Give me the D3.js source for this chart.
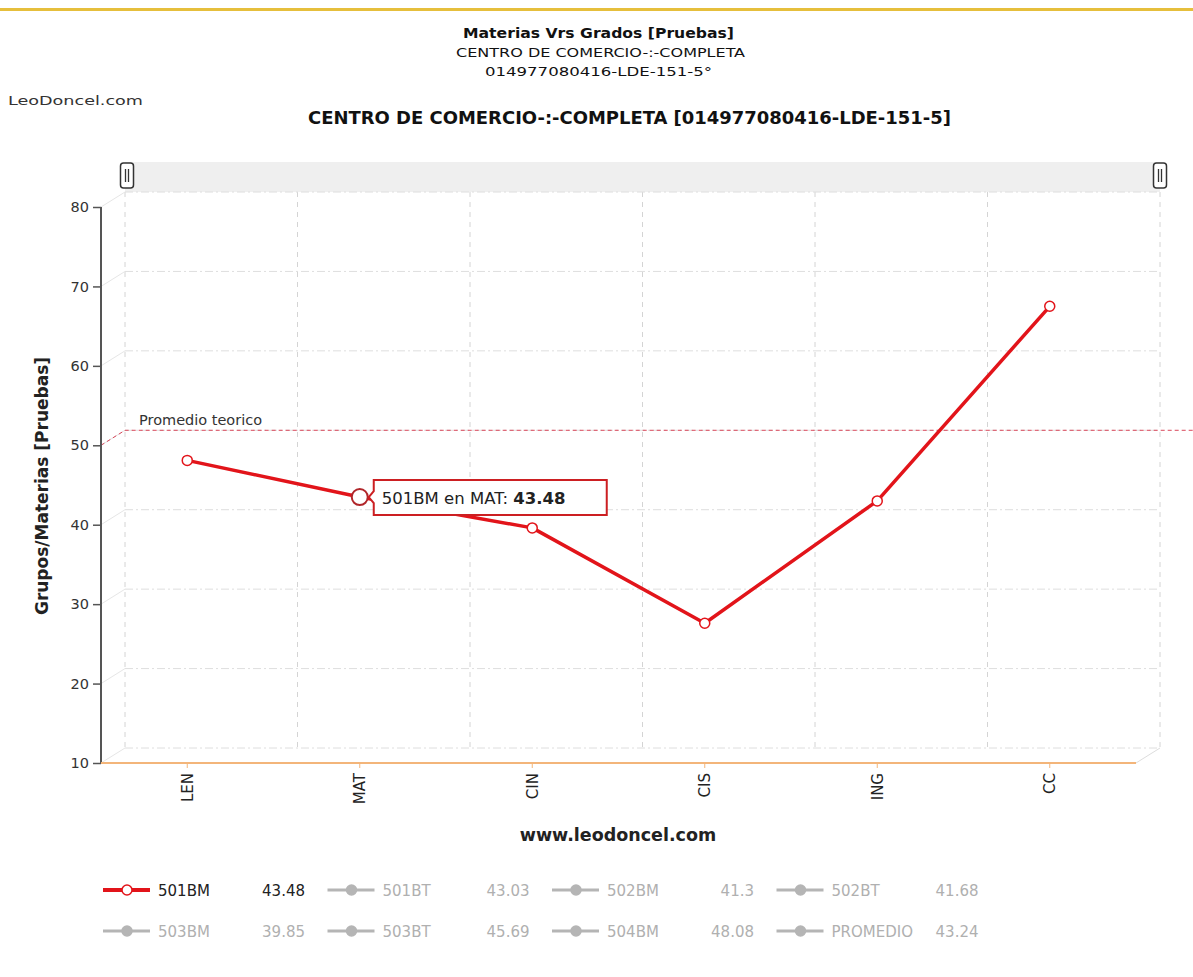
<!DOCTYPE html>
<html>
<head>
<meta charset="utf-8">
<script src="https://cdn.jsdelivr.net/npm/d3@7"></script>
<style>
  body { margin: 0; background: #fff; }
  svg { display: block; font-family: "DejaVu Sans", Verdana, sans-serif; }
</style>
</head>
<body>
<svg id="chart" width="1193" height="977"></svg>
<script>
// data
var materias = ["LEN", "MAT", "CIN", "CIS", "ING", "CC"];
var valores501BM = [48.1, 43.48, 39.6, 27.6, 43.0, 67.5];
var yTicks = [10, 20, 30, 40, 50, 60, 70, 80];
var promedioTeorico = 50;
var grupos = ["501BM", "501BT", "502BM", "502BT", "503BM", "503BT", "504BM", "PROMEDIO"];
var promedios = ["43.48", "43.03", "41.3", "41.68", "39.85", "45.69", "48.08", "43.24"];

var svg = d3.select("#chart");

var dims = { left: 101, right: 1136, top: 207, bottom: 763 };
var depth = { dx: 24, dy: -15 }; // offset of the back wall (fake 3d)
var red = "#e2141a";

var xScale = d3.scaleBand().domain(materias).range([dims.left, dims.right]);
var yScale = d3.scaleLinear().domain([10, 80]).range([dims.bottom, dims.top]);
var cx = (d) => xScale(d) + xScale.bandwidth() / 2;

// top gold rule
svg.append("rect").attr("x", 0).attr("y", 8).attr("width", 1193).attr("height", 3).attr("fill", "#e6bf3c");

// titles (condensed tahoma-like text, stretched to the widths in the picture)
var cond = "'DejaVu Sans Condensed', 'DejaVu Sans', sans-serif";
var head = svg.append("g").attr("font-family", cond).attr("fill", "#111");
head.append("text").attr("x", 463).attr("y", 38).attr("font-size", 14).attr("font-weight", "bold")
  .attr("textLength", 271).attr("lengthAdjust", "spacingAndGlyphs").text("Materias Vrs Grados [Pruebas]");
head.append("text").attr("x", 456).attr("y", 57).attr("font-size", 13)
  .attr("textLength", 289).attr("lengthAdjust", "spacingAndGlyphs").text("CENTRO DE COMERCIO-:-COMPLETA");
head.append("text").attr("x", 485).attr("y", 76).attr("font-size", 13)
  .attr("textLength", 227).attr("lengthAdjust", "spacingAndGlyphs").text("014977080416-LDE-151-5°");
svg.append("text").attr("x", 8).attr("y", 105).attr("font-size", 13).attr("fill", "#333")
  .attr("textLength", 135).attr("lengthAdjust", "spacingAndGlyphs").text("LeoDoncel.com");
svg.append("text").attr("x", 308).attr("y", 124).attr("font-family", cond)
  .attr("font-size", 17).attr("font-weight", "bold").attr("fill", "#111")
  .attr("textLength", 643).attr("lengthAdjust", "spacingAndGlyphs")
  .text("CENTRO DE COMERCIO-:-COMPLETA [014977080416-LDE-151-5]");

// range slider strip
svg.append("rect").attr("x", 125).attr("y", 162).attr("width", 1035).attr("height", 30).attr("fill", "#efefef");
[127, 1160].forEach(function (hx) {
  var h = svg.append("g").attr("transform", "translate(" + hx + ",175)");
  h.append("rect").attr("x", -6.5).attr("y", -12).attr("width", 13).attr("height", 25).attr("rx", 3)
    .attr("fill", "#fff").attr("stroke", "#333").attr("stroke-width", 1.5);
  h.append("line").attr("x1", -1.5).attr("x2", -1.5).attr("y1", -6).attr("y2", 7).attr("stroke", "#333").attr("stroke-width", 1.3);
  h.append("line").attr("x1", 1.5).attr("x2", 1.5).attr("y1", -6).attr("y2", 7).attr("stroke", "#333").attr("stroke-width", 1.3);
});

// back wall grid
var grid = svg.append("g");
d3.range(materias.length + 1).forEach(function (i) {
  var gx = dims.left + i * xScale.bandwidth() + depth.dx;
  grid.append("line").attr("x1", gx).attr("x2", gx)
    .attr("y1", dims.top + depth.dy).attr("y2", dims.bottom + depth.dy)
    .attr("stroke", "#d4d4d4").attr("stroke-dasharray", "5,5");
});
yTicks.forEach(function (v) {
  var gy = yScale(v) + depth.dy;
  grid.append("line").attr("x1", dims.left + depth.dx).attr("x2", dims.right + depth.dx)
    .attr("y1", gy).attr("y2", gy).attr("stroke", "#dedede").attr("stroke-dasharray", "8,3,2,3");
  grid.append("line").attr("x1", dims.left).attr("x2", dims.left + depth.dx)
    .attr("y1", yScale(v)).attr("y2", gy).attr("stroke", "#e6e6e6");
});
grid.append("line").attr("x1", dims.right).attr("x2", dims.right + depth.dx)
  .attr("y1", dims.bottom).attr("y2", dims.bottom + depth.dy).attr("stroke", "#ddd");

// promedio teorico
var py = yScale(promedioTeorico);
svg.append("path")
  .attr("d", "M" + dims.left + "," + py + "L" + (dims.left + depth.dx) + "," + (py + depth.dy) + "L1193," + (py + depth.dy))
  .attr("fill", "none").attr("stroke", "#d9475a").attr("stroke-width", 1).attr("stroke-dasharray", "4,3");
svg.append("text").attr("x", 139).attr("y", py + depth.dy - 5).attr("font-size", 14.5).attr("fill", "#333").text("Promedio teorico");

// y axis
var yAxis = d3.axisLeft(yScale).tickValues(yTicks).tickSize(8).tickPadding(4);
var yg = svg.append("g").attr("transform", "translate(" + dims.left + ",0)").call(yAxis);
yg.select(".domain").attr("stroke", "#555").attr("stroke-width", 2).attr("d", "M0," + dims.top + "V" + dims.bottom);
yg.selectAll(".tick line").attr("stroke", "#555").attr("stroke-width", 1.5);
yg.selectAll(".tick text").attr("font-size", 14.5).attr("fill", "#333").attr("font-family", "'DejaVu Sans', sans-serif");

svg.append("text").attr("transform", "translate(48,486) rotate(-90)").attr("text-anchor", "middle")
  .attr("font-size", 17).attr("font-weight", "bold").attr("fill", "#222").text("Grupos/Materias [Pruebas]");

// x axis
var xAxis = d3.axisBottom(xScale).tickSize(5).tickPadding(6);
var xg = svg.append("g").attr("transform", "translate(0," + dims.bottom + ")").call(xAxis);
xg.select(".domain").attr("stroke", "#f3b57a").attr("stroke-width", 2).attr("d", "M" + dims.left + ",0H" + dims.right);
xg.selectAll(".tick line").attr("stroke", "#f3b57a");
xg.selectAll(".tick text").attr("font-size", 15).attr("fill", "#222").attr("font-family", "'DejaVu Sans', sans-serif")
  .attr("transform", "rotate(-90)").attr("text-anchor", "end").attr("x", -10).attr("y", 0).attr("dy", "0.35em");

svg.append("text").attr("x", 618).attr("y", 841).attr("text-anchor", "middle")
  .attr("font-size", 17.5).attr("font-weight", "bold").attr("fill", "#222").text("www.leodoncel.com");

// series 501BM
var line = d3.line().x((d, i) => cx(materias[i])).y((d) => yScale(d));
svg.append("path").datum(valores501BM).attr("d", line)
  .attr("fill", "none").attr("stroke", red).attr("stroke-width", 3.5).attr("stroke-linejoin", "round");
svg.selectAll(".pt").data(valores501BM).enter().append("circle").attr("class", "pt")
  .attr("cx", (d, i) => cx(materias[i])).attr("cy", (d) => yScale(d))
  .attr("r", (d, i) => (i === 1 ? 8 : 5))
  .attr("fill", "#fff").attr("stroke", (d, i) => (i === 1 ? "#b0262a" : red)).attr("stroke-width", (d, i) => (i === 1 ? 2 : 1.5));

// tooltip on MAT
var tx = cx("MAT"), ty = yScale(valores501BM[1]);
var tip = svg.append("g").attr("transform", "translate(" + (tx + 9) + "," + ty + ")");
tip.append("path").attr("d", "M0,0L5,-6V-17H238V18H5V6Z").attr("fill", "#fff").attr("stroke", "#cc1f22").attr("stroke-width", 2);
var tt = tip.append("text").attr("x", 13).attr("y", 7).attr("font-size", 16.5).attr("fill", "#222");
tt.append("tspan").text("501BM en MAT: ");
tt.append("tspan").attr("font-weight", "bold").text(valores501BM[1]);

// legend
var legend = svg.append("g");
grupos.forEach(function (g, i) {
  var col = i % 4, row = Math.floor(i / 4);
  var lx = 103 + col * 224.5, ly = 890 + row * 41;
  var active = i === 0;
  var c = active ? red : "#b5b5b5";
  var item = legend.append("g").attr("transform", "translate(" + lx + "," + ly + ")");
  item.append("line").attr("x1", 0).attr("x2", 47).attr("y1", 0).attr("y2", 0).attr("stroke", c).attr("stroke-width", active ? 4 : 3);
  item.append("circle").attr("cx", 24).attr("cy", 0).attr("r", 5).attr("fill", active ? "#fff" : c).attr("stroke", c).attr("stroke-width", 1.5);
  item.append("text").attr("x", 55).attr("y", 5.5).attr("font-size", 15).attr("fill", active ? "#222" : "#b0b0b0").text(g);
  item.append("text").attr("x", 202).attr("y", 5.5).attr("text-anchor", "end").attr("font-size", 15)
    .attr("fill", active ? "#222" : "#b0b0b0").text(promedios[i]);
});
</script>
</body>
</html>
